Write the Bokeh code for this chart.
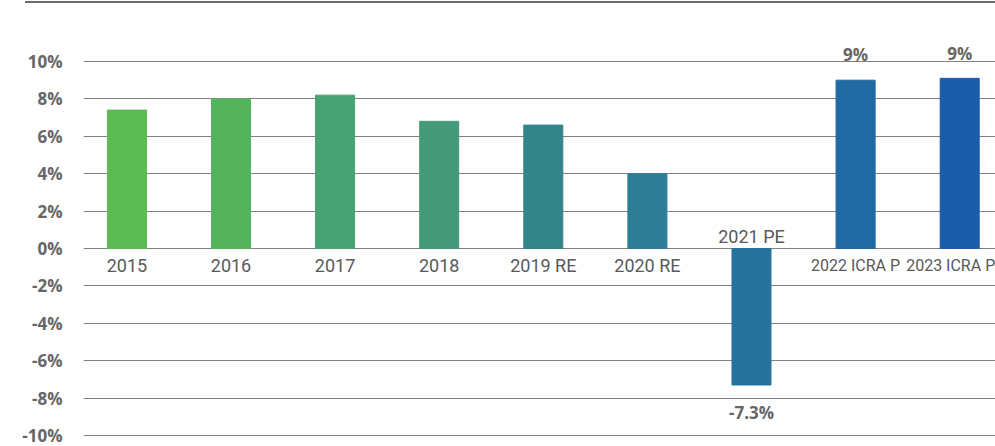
from bokeh.plotting import figure
from bokeh.models import (ColumnDataSource, Range1d, FixedTicker, PrintfTickFormatter, Div)
from bokeh.layouts import column
from bokeh.core.properties import value
from bokeh.embed import file_html
from bokeh.resources import INLINE

# ---- data ----
categories = ["2015", "2016", "2017", "2018", "2019 RE", "2020 RE", "2021 PE", "2022 ICRA P", "2023 ICRA P"]
growth = [7.4, 8.0, 8.2, 6.8, 6.6, 4.0, -7.3, 9.0, 9.1]
data_labels = ["", "", "", "", "", "", "-7.3%", "9%", "9%"]
bar_colors = ["#5BBA51", "#55B35D", "#49A274", "#449A79", "#33858A",
              "#2D7D96", "#26729C", "#2069A3", "#1B5DAB"]
y_ticks = [-10, -8, -6, -4, -2, 0, 2, 4, 6, 8, 10]

xs = list(range(len(categories)))
cat_y = [-0.9 if v >= 0 else 0.65 for v in growth]
lab_y = [v + 1.35 if v >= 0 else v - 1.45 for v in growth]
cat_size = ["16px" if len(c) > 8 else "18px" for c in categories]
cat_dx = [0] * (len(categories) - 1) + [-9]   # keep the last label inside the frame

src = ColumnDataSource(dict(x=xs, top=growth, color=bar_colors, cat=categories,
                            cat_y=cat_y, cat_size=cat_size, cat_dx=cat_dx,
                            lab=data_labels, lab_y=lab_y))

p = figure(width=995, height=442, output_backend="svg", toolbar_location=None,
           x_range=Range1d(-0.417, 8.344), y_range=Range1d(-10.588, 13.048),
           min_border_left=83, min_border_right=0, min_border_top=0, min_border_bottom=0)
p.outline_line_color = None
p.background_fill_color = "white"
p.border_fill_color = "white"

p.vbar(x="x", top="top", bottom=0, width=0.375, color="color", source=src)

p.text(x="x", y="cat_y", text="cat", source=src, text_align="center", text_baseline="middle",
       x_offset="cat_dx",
       text_font=value("Roboto"), text_font_size="cat_size", text_color="#595959")
p.text(x="x", y="lab_y", text="lab", source=src, text_align="center", text_baseline="middle",
       text_font=value("Open Sans"), text_font_style="bold", text_font_size="17px",
       text_color="#666666")

p.xaxis.visible = False
p.xgrid.visible = False
p.yaxis.ticker = FixedTicker(ticks=y_ticks)
p.yaxis.formatter = PrintfTickFormatter(format="%d%%")
p.yaxis.major_tick_line_color = None
p.yaxis.minor_tick_line_color = None
p.yaxis.axis_line_color = None
p.yaxis.major_label_standoff = 15
p.yaxis.major_label_text_font = "Open Sans"
p.yaxis.major_label_text_font_style = "bold"
p.yaxis.major_label_text_font_size = "17px"
p.yaxis.major_label_text_color = "#666666"
p.ygrid.ticker = FixedTicker(ticks=y_ticks)
p.ygrid.grid_line_color = "#808080"
p.ygrid.grid_line_width = 1

top_rule = Div(text='<div style="position:absolute;left:25px;top:1px;width:970px;height:0;'
                    'border-top:2px solid #6b6b6b;"></div>',
               width=995, height=4, margin=(0, 0, 0, 0),
               styles={"overflow": "hidden", "position": "relative"})

layout = column(top_rule, p, spacing=0, margin=(0, 0, 0, 0))

open("out.html", "w").write(file_html(layout, INLINE))
